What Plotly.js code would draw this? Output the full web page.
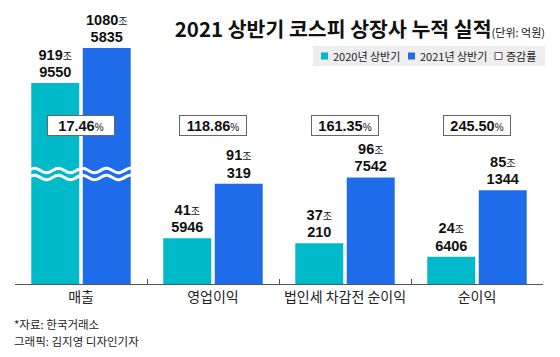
<!DOCTYPE html>
<html><head><meta charset="utf-8">
<script src="https://cdn.plot.ly/plotly-3.0.1.min.js"></script>
<style>html,body{margin:0;padding:0;background:#fff}</style>
</head><body><div id="chart" style="width:560px;height:357px"></div>
<script>
// ---- data (억원) ----
const categories = ['매출', '영업이익', '법인세 차감전 순이익', '순이익'];
const values2020 = [9199550, 415946, 370210, 246406];
const values2021 = [10805835, 910319, 967542, 851344];
const seriesNames = ['2020년 상반기', '2021년 상반기'];
const rateLegend = '증감률';
const titleText = '2021 상반기 코스피 상장사 누적 실적';
const unitText = '(단위: 억원)';
const sourceText = '*자료: 한국거래소';
const creditText = '그래픽: 김지영 디자인기자';

// ---- styling ----
const TEAL = '#00B9C9', BLUE = '#1F6CEB';
const W = 560, H = 357;
const M = {l: 15, r: 17, t: 40, b: 73};
const PW = W - M.l - M.r, PH = H - M.t - M.b;
const px = v => (v - M.l) / PW;          // pixel x -> paper
const py = v => (H - M.b - v) / PH;      // pixel y -> paper
const KR = 'Noto Sans CJK KR';
const NUM = 'Liberation Sans, Arial, ' + KR;

const rates = values2020.map((v, i) => ((values2021[i] / v - 1) * 100).toFixed(2));

function fmt(v) {
  const jo = Math.floor(v / 10000), rest = v % 10000;
  return jo + '<span style="font-size:10px;font-weight:normal;font-family:' + KR + '">조</span><br>' + rest;
}

const textfont = {family: NUM, size: 14.5, color: '#111', weight: 700};
const common = {type: 'bar', textposition: 'outside', cliponaxis: false, textfont: textfont,
  hoverinfo: 'skip', showlegend: false, marker: {line: {width: 0}}};
const mainIdx = [1, 2, 3];

const traces = [
  Object.assign({}, common, {name: seriesNames[0], x: [categories[0]], y: [values2020[0]], yaxis: 'y2',
    marker: {color: TEAL}, text: [fmt(values2020[0])]}),
  Object.assign({}, common, {name: seriesNames[1], x: [categories[0]], y: [values2021[0]], yaxis: 'y2',
    marker: {color: BLUE}, text: [fmt(values2021[0])]}),
  Object.assign({}, common, {name: seriesNames[0], x: mainIdx.map(i => categories[i]), y: mainIdx.map(i => values2020[i]),
    marker: {color: TEAL}, text: mainIdx.map(i => fmt(values2020[i]))}),
  Object.assign({}, common, {name: seriesNames[1], x: mainIdx.map(i => categories[i]), y: mainIdx.map(i => values2021[i]),
    marker: {color: BLUE}, text: mainIdx.map(i => fmt(values2021[i]))})
];

const bargap = 0.22, bargroupgap = 0.068;

// break marks (wavy lines) across the 매출 group
const catW = 1 / categories.length;
const gx0 = catW * bargap / 2 - 0.002, gx1 = catW * (1 - bargap / 2) + 0.002;
function wave(cy) {
  const amp = 2.2 / PH, period = 24 / PW;
  let d = '';
  const n = 80;
  for (let k = 0; k <= n; k++) {
    const x = gx0 + (gx1 - gx0) * k / n;
    const y = py(cy) + amp * Math.sin(2 * Math.PI * (x - gx0) / period);
    d += (k ? 'L' : 'M') + x.toFixed(5) + ',' + y.toFixed(5);
  }
  return {type: 'path', xref: 'paper', yref: 'paper', path: d, line: {color: '#fff', width: 3}, layer: 'above'};
}

const shapes = [
  wave(170.5), wave(177.5),
  // legend box
  {type: 'rect', xref: 'paper', yref: 'paper', x0: px(313), x1: px(545), y0: py(66), y1: py(46),
    fillcolor: '#EEEEEE', line: {width: 0}, layer: 'below'},
  {type: 'rect', xref: 'paper', yref: 'paper', x0: px(321), x1: px(328), y0: py(59.5), y1: py(52.5),
    fillcolor: TEAL, line: {width: 0}},
  {type: 'rect', xref: 'paper', yref: 'paper', x0: px(408), x1: px(415), y0: py(59.5), y1: py(52.5),
    fillcolor: BLUE, line: {width: 0}},
  {type: 'rect', xref: 'paper', yref: 'paper', x0: px(495), x1: px(502), y0: py(59.5), y1: py(52.5),
    fillcolor: '#fff', line: {width: 1, color: '#555'}}
];

const legendFont = {family: KR, size: 11, color: '#222'};
const annotations = [
  {xref: 'paper', yref: 'paper', x: px(331), y: py(56), xanchor: 'left', yanchor: 'middle', text: seriesNames[0], showarrow: false, font: legendFont},
  {xref: 'paper', yref: 'paper', x: px(418), y: py(56), xanchor: 'left', yanchor: 'middle', text: seriesNames[1], showarrow: false, font: legendFont},
  {xref: 'paper', yref: 'paper', x: px(504), y: py(56), xanchor: 'left', yanchor: 'middle', text: rateLegend, showarrow: false, font: legendFont},
  {xref: 'paper', yref: 'paper', x: px(12), y: py(324), xanchor: 'left', yanchor: 'middle', text: sourceText, showarrow: false, font: {family: KR, size: 11.5, color: '#222'}},
  {xref: 'paper', yref: 'paper', x: px(12), y: py(341), xanchor: 'left', yanchor: 'middle', text: creditText, showarrow: false, font: {family: KR, size: 11.5, color: '#222'}}
].concat(categories.map((c, i) => ({
  xref: 'x', x: c, yref: 'paper', y: py(125), xanchor: 'center', yanchor: 'middle',
  text: '<b>' + rates[i] + '</b><span style="font-size:10px">%</span>', showarrow: false,
  bgcolor: '#fff', bordercolor: '#666', borderwidth: 1, borderpad: 1, width: 64, height: 17,
  font: {family: NUM, size: 14.5, color: '#111'}
})));

const layout = {
  width: W, height: H, margin: M,
  paper_bgcolor: '#fff', plot_bgcolor: '#fff',
  barmode: 'group', bargap: bargap, bargroupgap: bargroupgap,
  showlegend: false,
  title: {
    text: '<b>' + titleText + '</b><span style="font-size:11px">' + unitText + '</span>',
    font: {family: KR, size: 20.5, color: '#111'},
    xref: 'container', x: 545 / W, xanchor: 'right',
    yref: 'container', y: 1 - 30 / H, yanchor: 'middle'
  },
  xaxis: {type: 'category', categoryorder: 'array', categoryarray: categories,
    showline: true, linecolor: '#555', linewidth: 1, ticks: 'inside', tickson: 'boundaries',
    ticklen: 5, tickcolor: '#555', tickfont: {family: KR, size: 14, color: '#222'}, showgrid: false},
  yaxis: {range: [0, 2215000], visible: false},
  yaxis2: {range: [0, 11170000], overlaying: 'y', visible: false},
  shapes: shapes,
  annotations: annotations
};

Plotly.newPlot('chart', traces, layout, {staticPlot: true}).then(gd => {
  gd.querySelectorAll('text.bartext').forEach(t => {
    const lines = t.querySelectorAll('tspan.line');
    if (lines.length === 2) {
      lines[0].setAttribute('dy', '0.1em');
      lines[1].setAttribute('dy', '1.3em');
    }
  });
});
</script>
</body></html>
